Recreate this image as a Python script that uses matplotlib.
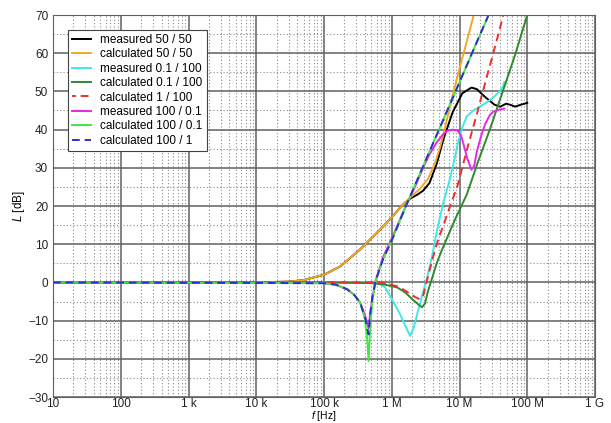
import numpy as np
import matplotlib.pyplot as plt
from matplotlib.ticker import FixedLocator, LogLocator, MultipleLocator, NullFormatter

plt.rcParams['font.family'] = ['Liberation Sans', 'DejaVu Sans']
plt.rcParams['mathtext.fontset'] = 'custom'
plt.rcParams['mathtext.it'] = 'Liberation Sans:italic'
plt.rcParams['mathtext.rm'] = 'Liberation Sans'

# measured 50 / 50
f_m5050 = [10, 1e3, 1e4, 3e4, 5e4, 1e5, 1.74e5, 3.4e5, 6.7e5, 1e6, 1.3e6, 1.6e6, 1.9e6,
           2.4e6, 2.9e6, 3.6e6, 4.6e6, 5.8e6, 7.9e6, 1.1e7, 1.5e7, 1.8e7, 2.4e7, 3.3e7,
           4e7, 4.9e7, 5.8e7, 6.6e7, 8e7, 1e8]
L_m5050 = [0, 0, 0, 0.2, 0.6, 2, 4.2, 8.6, 13.8, 17, 19.4, 21, 22,
           23, 24, 26, 31, 37.5, 44.5, 49.5, 51, 50.6, 48.5, 46.5,
           46, 46.8, 46.4, 46, 46.5, 47]

# calculated 50 / 50
f_c5050 = [10, 1e3, 1e4, 3e4, 5e4, 1e5, 1.74e5, 3.4e5, 6.7e5, 1e6, 1.3e6, 1.9e6, 2.6e6,
           3.4e6, 4.3e6, 5.2e6, 6.3e6, 7.8e6, 1e7, 1.3e7, 1.65e7, 1.8e7]
L_c5050 = [0, 0, 0, 0.2, 0.6, 2, 4.2, 8.6, 13.8, 17, 19.4, 22.3, 24.5,
           27, 31, 35.5, 41.5, 48.5, 56, 63.5, 70.5, 73]

# measured 0.1 / 100
f_m01100 = [10, 1e5, 5e5, 6.5e5, 8e5, 1.05e6, 1.3e6, 1.6e6, 1.86e6, 2.1e6, 2.4e6, 2.8e6,
            3.3e6, 4e6, 4.7e6, 5.8e6, 7.2e6, 8.5e6, 9.6e6, 1.1e7, 1.28e7, 1.6e7, 2e7,
            2.6e7, 3.1e7, 3.8e7, 4.3e7, 4.6e7]
L_m01100 = [0, 0, 0, -0.3, -1.3, -5, -8, -11.5, -14, -12, -8, -3.5,
            1, 7.5, 14, 21, 27, 32.5, 37, 40.5, 43.5, 45, 46,
            47.3, 48.3, 49.8, 51, 52.5]

# calculated 0.1 / 100
f_c01100 = [10, 1e5, 5e5, 8e5, 1.2e6, 1.6e6, 1.9e6, 2.3e6, 2.6e6, 2.8e6, 3.1e6, 3.4e6,
            4e6, 4.6e6, 5.5e6, 6.5e6, 8.6e6, 1.28e7, 1.87e7, 2.8e7, 4.26e7, 6.6e7, 1e8, 1.1e8]
L_c01100 = [0, 0, -0.2, -0.6, -1.3, -2.7, -4, -5.3, -6.1, -6.5, -5.5, -2.5,
            1.5, 5, 8.5, 11.5, 16.5, 23, 31.5, 40, 49.5, 59.5, 70, 72]

# calculated 1 / 100
f_c1100 = [10, 1e5, 6.7e5, 1.2e6, 1.6e6, 1.9e6, 2.3e6, 2.6e6, 2.9e6, 3.2e6, 3.6e6, 4.2e6,
           4.8e6, 6.5e6, 9.4e6, 1.3e7, 1.8e7, 2.5e7, 3.5e7, 4.6e7]
L_c1100 = [0, 0, 0, -1, -2.2, -3.1, -4, -4.4, -3.6, -0.5, 3, 7.5,
           11, 17.5, 25.5, 35, 44, 53.5, 63, 71]

# measured 100 / 0.1
f_m10001 = [10, 1e5, 1.5e5, 2.2e5, 2.8e5, 3.4e5, 4e5, 4.3e5, 4.55e5, 4.8e5, 5.2e5, 5.8e5,
            7.4e5, 1e6, 1.6e6, 2.2e6, 2.9e6, 3.6e6, 4.6e6, 5.6e6, 6.6e6, 8e6, 9.4e6,
            1.05e7, 1.13e7, 1.3e7, 1.5e7, 1.65e7, 1.8e7, 2.1e7, 2.4e7, 2.8e7, 3.1e7,
            3.8e7, 4.6e7]
L_m10001 = [0, -0.2, -0.6, -1.8, -3.3, -5.2, -8.5, -10.5, -12, -8, -4, 0.5,
            6.5, 11.5, 19.8, 25, 30, 33.5, 36.6, 38.6, 39.7, 40, 39.7,
            38.5, 36.6, 32.5, 29.5, 30.5, 34.2, 38.5, 41.5, 43.8, 44.6,
            45.2, 45.5]

# calculated 100 / 0.1
f_c10001 = [10, 1e5, 1.5e5, 2.2e5, 2.8e5, 3.4e5, 4e5, 4.3e5, 4.55e5, 4.8e5, 5.2e5, 5.8e5,
            7.4e5, 1e6, 1.6e6, 2.5e6, 4e6, 5.8e6, 1e7, 1.6e7, 2.6e7, 2.8e7]
L_c10001 = [0, -0.2, -0.6, -1.8, -3.3, -5.2, -9.5, -14, -20.6, -12, -4.5, 0.5,
            6, 11, 19.8, 27.7, 36.1, 42.7, 52.4, 60.8, 69.4, 71]

# calculated 100 / 1
f_c1001 = [10, 1e5, 1.5e5, 2.2e5, 2.8e5, 3.4e5, 4e5, 4.3e5, 4.55e5, 4.8e5, 5.2e5, 5.8e5,
           7.4e5, 1e6, 1.6e6, 2.5e6, 4e6, 5.8e6, 1e7, 1.6e7, 2.6e7, 2.8e7]
L_c1001 = [0, -0.2, -0.6, -1.8, -3.3, -5.2, -8.9, -11.5, -13.6, -8.5, -3.5, 0.5,
           6, 11, 19.8, 27.7, 36.1, 42.7, 52.4, 60.8, 69.4, 71]

xticks = [1e1, 1e2, 1e3, 1e4, 1e5, 1e6, 1e7, 1e8, 1e9]
xticklabels = ['10', '100', '1 k', '10 k', '100 k', '1 M', '10 M', '100 M', '1 G']

fig = plt.figure(figsize=(6.11, 4.23), dpi=100)
ax = fig.add_axes([53 / 611, 1 - 397 / 423, 542 / 611, 382 / 423])

lw = 1.4
ax.plot(f_m5050, L_m5050, color='black', lw=lw, label='measured 50 / 50')
ax.plot(f_c5050, L_c5050, color='#f0a828', lw=lw, label='calculated 50 / 50')
ax.plot(f_m01100, L_m01100, color='#40e8e8', lw=lw, label='measured 0.1 / 100')
ax.plot(f_c01100, L_c01100, color='#2e8b2e', lw=lw, label='calculated 0.1 / 100')
ax.plot(f_c1100, L_c1100, color='#e83030', lw=lw, ls=(2, (4, 2.5)), label='calculated 1 / 100')
ax.plot(f_m10001, L_m10001, color='#e828e8', lw=lw, label='measured 100 / 0.1')
ax.plot(f_c10001, L_c10001, color='#40e840', lw=lw, label='calculated 100 / 0.1')
ax.plot(f_c1001, L_c1001, color='#3030c8', lw=lw, ls=(0, (4, 2.5)), label='calculated 100 / 1')

ax.set_xscale('log')
ax.set_xlim(10, 1e9)
ax.set_ylim(-30, 70)
ax.xaxis.set_major_locator(FixedLocator(xticks))
ax.set_xticklabels(xticklabels)
ax.xaxis.set_minor_locator(LogLocator(base=10, subs=np.arange(2, 10), numticks=20))
ax.xaxis.set_minor_formatter(NullFormatter())
ax.yaxis.set_major_locator(MultipleLocator(10))
ax.yaxis.set_minor_locator(MultipleLocator(5))

ax.grid(which='major', color='#606060', lw=1.1, ls='-')
ax.grid(which='minor', color='#8a8a8a', lw=0.8, ls=(0, (1, 2)))
ax.set_axisbelow(True)
for s in ax.spines.values():
    s.set_color('#606060')
ax.tick_params(which='both', length=0, labelsize=8.5, pad=3.5, colors='#222222')
ax.tick_params(axis='x', pad=1.0)

ax.set_xlabel(r'$\mathit{f}$ [Hz]', fontsize=7.5, va='bottom')
ax.xaxis.set_label_coords(0.5, -26 / 382)
ax.set_ylabel(r'$\mathit{L}$ [dB]', fontsize=8.5, labelpad=1)

leg = ax.legend(loc='upper left', bbox_to_anchor=(15 / 542, 1 - 15 / 382), fontsize=8.5,
                frameon=True, fancybox=False, edgecolor='#444444', framealpha=1,
                borderaxespad=0, labelspacing=0.2, handlelength=1.6, handletextpad=0.8,
                borderpad=0.35)
leg.get_frame().set_linewidth(0.8)

fig.savefig('out.png', dpi=100)
